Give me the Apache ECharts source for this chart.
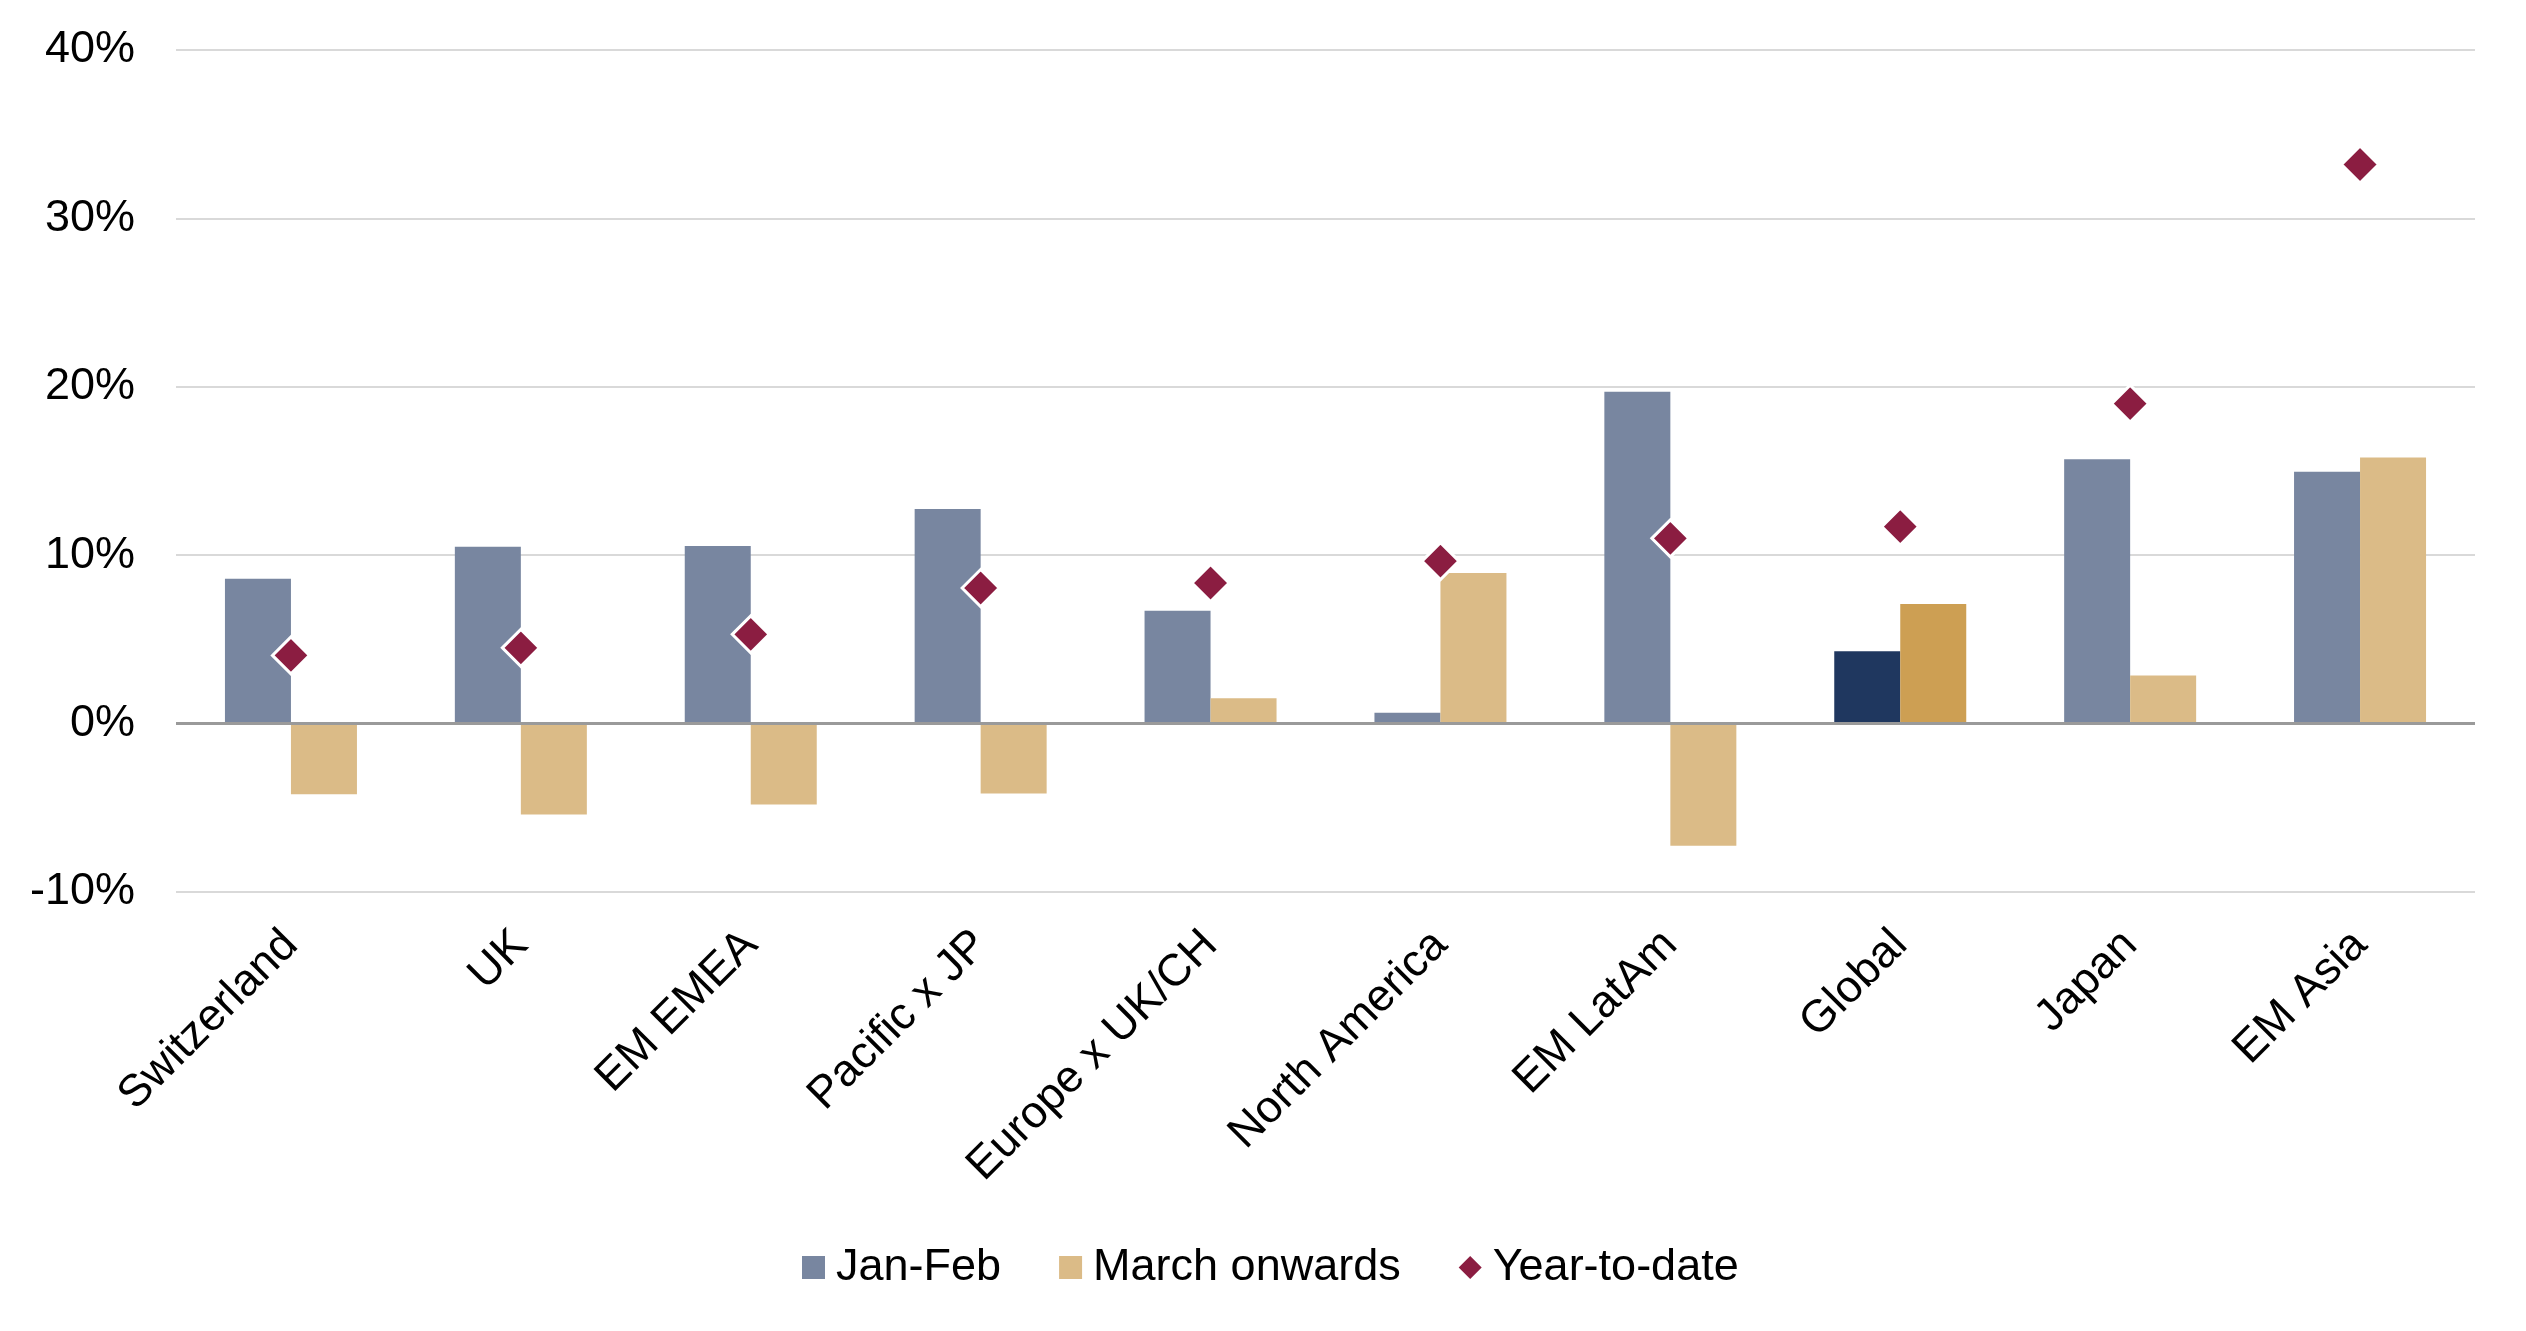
<!DOCTYPE html>
<html>
<head>
<meta charset="utf-8">
<title>Returns by region</title>
<script src="https://cdn.jsdelivr.net/npm/echarts@6/dist/echarts.min.js"></script>
<style>
  html, body { margin: 0; padding: 0; background: #fff; }
  #chartmain { width: 2526px; height: 1331px; }
</style>
</head>
<body>
<div id="chartmain"></div>
<script>
	// data (percent)
	var regions = ['Switzerland', 'UK', 'EM EMEA', 'Pacific x JP', 'Europe x UK/CH',
		'North America', 'EM LatAm', 'Global', 'Japan', 'EM Asia'];
	var janFeb = [8.6, 10.5, 10.55, 12.75, 6.7, 0.65, 19.7, 4.3, 15.7, 14.95];
	var marchOn = [-4.2, -5.4, -4.8, -4.15, 1.5, 8.95, -7.25, 7.1, 2.85, 15.8];
	var ytd = [4.05, 4.5, 5.3, 8.05, 8.35, 9.65, 11.0, 11.7, 19.0, 33.2];
	var yTicks = [-10, 0, 10, 20, 30, 40];

	var seriesNames = ['Jan-Feb', 'March onwards', 'Year-to-date'];

	var FONT = '"Liberation Sans", Arial, sans-serif';

	// Global bars get the darker colours
	function barData(values, highlight) {
		var out = [];
		for (var i = 0; i < values.length; i++) {
			var obj = { value: values[i] };
			if (regions[i] === 'Global') {
				obj.itemStyle = { color: highlight };
			}
			out[i] = obj;
		}
		return out;
	}

	function chushihua(myChart) {
		var option = {
			animation : false,
			backgroundColor : '#ffffff',
			textStyle : { fontFamily : FONT },
			grid : {
				left : 176,
				right : 51,
				top : 50,
				bottom : 439
			},
			legend : {
				left : 797,
				top : 1240,
				itemWidth : 23,
				itemHeight : 23,
				itemGap : 58,
				textStyle : {
					fontFamily : FONT,
					fontSize : 45,
					color : '#000',
					padding : [0, 0, 0, 6]
				},
				data : [
					{ name : seriesNames[0], icon : 'rect' },
					{ name : seriesNames[1], icon : 'rect' },
					{ name : seriesNames[2], icon : 'diamond', itemStyle : { borderWidth : 0, opacity : 1 } }
				]
			},
			xAxis : {
				type : 'category',
				data : regions,
				axisLine : { show : false },
				axisTick : { show : false },
				splitLine : { show : false },
				axisLabel : {
					interval : 0,
					rotate : 45,
					margin : 46,
					fontFamily : FONT,
					fontSize : 45,
					color : '#000'
				}
			},
			yAxis : {
				type : 'value',
				min : yTicks[0],
				max : yTicks[yTicks.length - 1],
				interval : 10,
				axisLine : { show : false },
				axisTick : { show : false },
				axisLabel : {
					margin : 41,
					fontFamily : FONT,
					fontSize : 45,
					color : '#000',
					formatter : '{value}%'
				},
				splitLine : {
					lineStyle : { color : '#d9d9d9', width : 2 }
				}
			},
			series : [ {
				name : seriesNames[0],
				type : 'bar',
				barWidth : 66,
				barGap : '0%',
				itemStyle : { color : '#7886a0' },
				data : barData(janFeb, '#1f375f'),
				markLine : {
					silent : true,
					symbol : 'none',
					label : { show : false },
					lineStyle : { color : '#9a9a9a', width : 3, type : 'solid' },
					data : [ { yAxis : 0 } ]
				}
			}, {
				name : seriesNames[1],
				type : 'bar',
				barWidth : 66,
				barGap : '0%',
				itemStyle : { color : '#dbbb87' },
				data : barData(marchOn, '#cd9f53')
			}, {
				name : seriesNames[2],
				type : 'scatter',
				symbol : 'diamond',
				symbolSize : 37,
				z : 5,
				itemStyle : {
					color : '#8b1d41',
					opacity : 1,
					borderColor : '#ffffff',
					borderWidth : 3
				},
				data : ytd
			} ]
		};

		myChart.setOption(option);
	}

	//初始化echarts实例
	var myChart = echarts.init(document.getElementById('chartmain'));
	chushihua(myChart);
</script>
</body>
</html>
